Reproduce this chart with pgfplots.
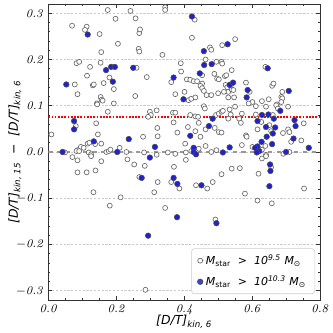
\documentclass[border=0pt]{standalone}
\usepackage{pgfplots}
\pgfplotsset{compat=1.18}
\usepackage{fontspec}
\setsansfont{DejaVu Sans}
\usetikzlibrary{calc}

\definecolor{ptblue}{RGB}{32,32,215}
\definecolor{ptedge}{RGB}{105,105,105}

\begin{document}
\begin{tikzpicture}
\begin{axis}[
  scale only axis,
  width=6.527cm, height=7.11cm,
  xmin=0, xmax=0.8, ymin=-0.32, ymax=0.32,
  xtick={0,0.2,0.4,0.6,0.8},
  xticklabels={\textit{0.0},\textit{0.2},\textit{0.4},\textit{0.6},\textit{0.8}},
  ytick={-0.3,-0.2,-0.1,0,0.1,0.2,0.3},
  yticklabels={$-$\textit{0.3},$-$\textit{0.2},$-$\textit{0.1},\textit{0.0},\textit{0.1},\textit{0.2},\textit{0.3}},
  minor xtick={0.05,0.1,0.15,0.25,0.3,0.35,0.45,0.5,0.55,0.65,0.7,0.75},
  minor ytick={-0.32,-0.28,-0.26,-0.24,-0.22,-0.18,-0.16,-0.14,-0.12,-0.08,-0.06,-0.04,-0.02,0.02,0.04,0.06,0.08,0.12,0.14,0.16,0.18,0.22,0.24,0.26,0.28,0.32},
  tick align=inside,
  major tick length=2.8pt, minor tick length=1.5pt,
  tick style={black!80, line width=0.5pt},
  axis line style={black!80, line width=0.6pt},
  tick label style={font=\fontsize{8}{9}\selectfont},
  ymajorgrids,
  major grid style={gray!40, dash pattern=on 1.6pt off 1pt, line width=0.35pt},
  xlabel={\sffamily\itshape [D/T]\textsubscript{kin, 6}},
  ylabel={\sffamily\itshape [D/T]\textsubscript{kin, 15}\ \ −\ \ [D/T]\textsubscript{kin, 6}},
  label style={font=\fontsize{8.5}{10}\selectfont},
  xlabel style={at={(axis description cs:0.5,-0.074)}, anchor=center},
  ylabel style={at={(axis description cs:-0.1226,0.5)}, anchor=center},
  legend cell align=left,
  legend style={font=\fontsize{7.5}{9}\selectfont\sffamily\itshape,
    draw=black!20, rounded corners=2pt, fill=white, fill opacity=0.85, text opacity=1,
    at={(rel axis cs:0.982,0.02)}, anchor=south east, row sep=2pt,
    inner xsep=4pt, inner ysep=2pt},
]
\coordinate (bl) at (rel axis cs:0,0);
\coordinate (tr) at (rel axis cs:1,1);

\addplot[gray!80, dashed, line width=0.9pt, forget plot] coordinates {(0,0) (0.8,0)};
\addplot[red, densely dotted, line width=1.2pt, forget plot] coordinates {(0,0.075) (0.8,0.075)};

\addplot[only marks, mark=*, mark size=1.7pt, mark options={fill=white, draw=ptedge, line width=0.45pt}] coordinates {
(0.175,0.307) (0.242,0.305) (0.198,0.288) (0.257,0.289) (0.070,0.273) (0.113,0.271)
(0.108,0.264) (0.151,0.255) (0.268,0.257) (0.270,0.265) (0.205,0.234) (0.266,0.223)
(0.268,0.217) (0.156,0.216) (0.083,0.192) (0.091,0.195) (0.154,0.193) (0.123,0.184)
(0.260,0.182) (0.114,0.165) (0.180,0.161) (0.078,0.146) (0.131,0.144) (0.134,0.146)
(0.163,0.149) (0.193,0.136) (0.086,0.125) (0.256,0.121) (0.154,0.119) (0.157,0.113)
(0.193,0.105) (0.143,0.105)
(0.344,0.313) (0.344,0.307) (0.431,0.286) (0.423,0.247) (0.336,0.210) (0.476,0.226)
(0.480,0.221) (0.512,0.231) (0.463,0.200) (0.495,0.195) (0.510,0.195) (0.512,0.191)
(0.390,0.192) (0.391,0.174) (0.453,0.166) (0.489,0.169) (0.497,0.159) (0.502,0.157)
(0.520,0.164) (0.290,0.162) (0.362,0.151) (0.408,0.157) (0.418,0.156) (0.428,0.153)
(0.438,0.153) (0.453,0.148) (0.448,0.143) (0.453,0.138) (0.458,0.132) (0.522,0.145)
(0.527,0.140) (0.530,0.130) (0.466,0.123) (0.480,0.123) (0.500,0.127) (0.517,0.130)
(0.374,0.125) (0.401,0.130) (0.413,0.112) (0.421,0.115) (0.433,0.118)
(0.550,0.244) (0.639,0.184) (0.540,0.177) (0.524,0.166) (0.540,0.147) (0.540,0.135)
(0.545,0.134) (0.582,0.150) (0.530,0.118) (0.547,0.118) (0.593,0.130) (0.659,0.143)
(0.663,0.148) (0.686,0.119) (0.689,0.130) (0.689,0.116) (0.649,0.114) (0.629,0.110)
(0.601,0.108) (0.590,0.105) (0.673,0.103)
(0.144,0.103) (0.160,0.111) (0.175,0.087) (0.141,0.062) (0.081,0.056) (0.009,0.038)
(0.146,0.038) (0.116,0.018) (0.121,0.020) (0.138,0.017) (0.156,0.018) (0.096,0.011)
(0.104,0.009) (0.086,0.004) (0.083,0.002) (0.091,0.002) (0.119,-0.001) (0.126,-0.005)
(0.049,-0.001) (0.171,0.000) (0.178,0.002) (0.183,0.005) (0.210,0.009) (0.230,0.000)
(0.071,-0.011) (0.086,-0.018) (0.126,-0.009) (0.156,-0.020) (0.233,-0.016) (0.253,-0.027)
(0.139,-0.040) (0.086,-0.044) (0.113,-0.044) (0.268,-0.054) (0.133,-0.087) (0.213,-0.098)
(0.458,0.099) (0.461,0.094) (0.299,0.087) (0.302,0.080) (0.294,0.076) (0.319,0.090)
(0.367,0.085) (0.374,0.085) (0.418,0.080) (0.433,0.077) (0.441,0.076) (0.443,0.063)
(0.494,0.080) (0.502,0.083) (0.510,0.087) (0.514,0.089) (0.369,0.064) (0.411,0.054)
(0.463,0.049) (0.490,0.052) (0.502,0.043) (0.510,0.042) (0.433,0.045) (0.380,0.042)
(0.279,0.033) (0.322,0.034) (0.321,0.052) (0.448,0.033) (0.403,0.018) (0.421,0.002)
(0.438,0.004) (0.443,0.007) (0.463,0.013) (0.495,0.004) (0.480,0.000) (0.282,-0.001)
(0.352,-0.001) (0.374,-0.004) (0.405,-0.001) (0.319,-0.006) (0.405,-0.017) (0.284,-0.030)
(0.510,-0.048) (0.322,-0.065) (0.362,-0.065) (0.386,-0.079) (0.435,-0.072) (0.468,-0.079)
(0.484,-0.065) (0.312,-0.087) (0.370,-0.032)
(0.550,0.098) (0.534,0.092) (0.537,0.081) (0.570,0.083) (0.530,0.072) (0.562,0.072)
(0.567,0.063) (0.611,0.099) (0.641,0.098) (0.671,0.101) (0.676,0.094) (0.686,0.108)
(0.706,0.098) (0.611,0.081) (0.661,0.080) (0.627,0.065) (0.752,0.062) (0.616,0.049)
(0.651,0.058) (0.656,0.045) (0.691,0.041) (0.706,0.049) (0.710,0.043) (0.582,0.036)
(0.584,0.033) (0.715,0.022) (0.745,0.025) (0.570,0.015) (0.601,0.011) (0.639,0.013)
(0.629,0.005) (0.641,-0.006) (0.692,-0.004) (0.710,0.000) (0.629,-0.014) (0.641,-0.009)
(0.540,-0.036) (0.564,-0.035) (0.619,-0.047) (0.656,-0.033) (0.753,-0.079) (0.579,-0.090)
(0.616,-0.105) (0.658,-0.111)
(0.181,-0.116) (0.344,-0.121) (0.286,-0.298) (0.492,-0.146) (0.460,-0.230)
};
\addlegendentry{M\textsubscript{\upshape star}\ \ >\ \ 10\textsuperscript{9.5} M\textsubscript{⊙}}

\addplot[only marks, mark=*, mark size=1.9pt, mark options={fill=ptblue, draw=black!70, line width=0.4pt}] coordinates {
(0.116,0.254) (0.185,0.184) (0.196,0.184) (0.170,0.177) (0.250,0.182) (0.190,0.152)
(0.053,0.146) (0.423,0.293) (0.458,0.218) (0.528,0.233) (0.459,0.188) (0.481,0.190)
(0.446,0.170) (0.369,0.161) (0.534,0.145) (0.398,0.114) (0.646,0.181) (0.544,0.150)
(0.587,0.134) (0.584,0.118) (0.708,0.132) (0.076,0.067) (0.076,0.049) (0.134,0.023)
(0.237,0.028) (0.042,0.000) (0.203,0.000) (0.484,0.072) (0.473,0.056) (0.418,0.035)
(0.314,0.011) (0.428,0.009) (0.428,0.000) (0.435,-0.005) (0.514,-0.001) (0.534,0.010)
(0.299,-0.012) (0.275,-0.056) (0.369,-0.056) (0.380,-0.069) (0.451,-0.072)
(0.683,0.089) (0.629,0.080) (0.648,0.081) (0.664,0.072) (0.616,0.067) (0.725,0.069)
(0.728,0.056) (0.641,0.054) (0.668,0.053) (0.661,0.040) (0.643,0.033) (0.722,0.029)
(0.628,0.022) (0.616,0.012) (0.609,0.009) (0.621,0.002) (0.614,-0.001) (0.659,0.017)
(0.700,0.000) (0.767,0.009) (0.653,-0.027) (0.654,-0.041) (0.651,-0.074)
(0.379,-0.141) (0.294,-0.181) (0.495,-0.154)
};
\addlegendentry{M\textsubscript{\upshape star}\ \ >\ \ 10\textsuperscript{10.3} M\textsubscript{⊙}}
\end{axis}
\pgfresetboundingbox
\path[use as bounding box] ($(bl)+(-1.160cm,-0.793cm)$) rectangle ($(tr)+(0.312cm,0.096cm)$);
\end{tikzpicture}
\end{document}
